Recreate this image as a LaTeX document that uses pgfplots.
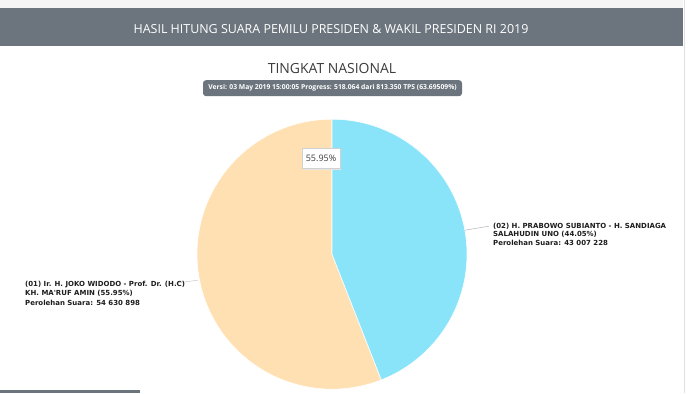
\documentclass[border=0pt]{standalone}
\usepackage{pgfplots}
\pgfplotsset{compat=1.18}
\usepackage{pgfplotstable}
\usepackage{fontspec}
\setmainfont{Open Sans}
\newfontfamily\lblfont{DejaVu Sans}
\definecolor{barg}{RGB}{108,117,125}
\definecolor{pieor}{RGB}{255,224,178}
\definecolor{piebl}{RGB}{137,228,250}
\definecolor{txt}{RGB}{60,60,60}
\definecolor{lbl}{RGB}{30,30,30}
\pgfplotstableread{
cand pct
01 55.95
02 44.05
}\votes
\pgfplotstablegetelem{1}{pct}\of\votes
\pgfmathsetmacro\angb{\pgfplotsretval*3.6}
\pgfmathsetmacro\bstart{90-\angb}
\pgfmathsetmacro\oend{450-\angb}
\begin{document}
\begin{tikzpicture}[x=1bp,y=1bp]
% canvas (y measured downward from top: Y = 393 - y)
\fill[white] (0,0) rectangle (700,393);
\fill[black!4] (0,385) rectangle (683,393);
\draw[black!12] (684.5,0) -- (684.5,393);
\fill[barg] (0,347) rectangle (683,385);
\node[text=white,font=\fontsize{12.5}{14}\selectfont] at (331,364.5) {HASIL HITUNG SUARA PEMILU PRESIDEN \& WAKIL PRESIDEN RI 2019};
\node[text=txt,font=\fontsize{14}{16}\selectfont] at (332,325) {TINGKAT NASIONAL};
\fill[barg,rounded corners=3bp] (203,297) rectangle (462,313);
\node[text=white,font=\fontsize{6.8}{8}\selectfont\bfseries] at (332.5,305) {Versi: 03 May 2019 15:00:05 Progress: 518.064 dari 813.350 TPS (63.69509\%)};
\fill[barg] (0,0) rectangle (140,3);
% pie
\begin{axis}[at={(332bp,139bp)},anchor=center,scale only axis,width=270bp,height=270bp,
  xmin=-1,xmax=1,ymin=-1,ymax=1,hide axis,clip=false]
\addplot[fill=pieor,draw=white,line width=0.6pt,domain=90:\oend,samples=180,variable=\t] ({cos(\t)},{sin(\t)}) -- (axis cs:0,0) -- cycle;
\addplot[fill=piebl,draw=white,line width=0.6pt,domain=\bstart:90,samples=140,variable=\t] ({cos(\t)},{sin(\t)}) -- (axis cs:0,0) -- cycle;
\end{axis}
% tooltip
\fill[black!10] (303,223.5) rectangle (341,245.5);
\fill[white] (302,224.5) rectangle (340,245);
\draw[black!18,line width=0.4pt] (302,224.5) rectangle (340,245);
\node[text=txt,font=\fontsize{9}{10}\selectfont] at (321,234.5) {55.95\%};
% connectors
\draw[black!35,line width=0.4pt] (465,163) -- (489,167);
\draw[black!25,line width=0.4pt] (198,113) -- (175,110);
% labels
\begin{scope}[every node/.style={anchor=west,inner sep=0pt,text=lbl,font=\lblfont\fontsize{7}{8}\selectfont\bfseries}]
\node at (493,167) {(02) H. PRABOWO SUBIANTO - H. SANDIAGA};
\node at (493,158.5) {SALAHUDIN UNO (44.05\%)};
\node at (493,150) {Perolehan Suara: 43 007 228};
\node at (25,109) {(01) Ir. H. JOKO WIDODO - Prof. Dr. (H.C)};
\node at (25,99.5) {KH. MA'RUF AMIN (55.95\%)};
\node at (25,90) {Perolehan Suara: 54 630 898};
\end{scope}
\end{tikzpicture}
\end{document}
